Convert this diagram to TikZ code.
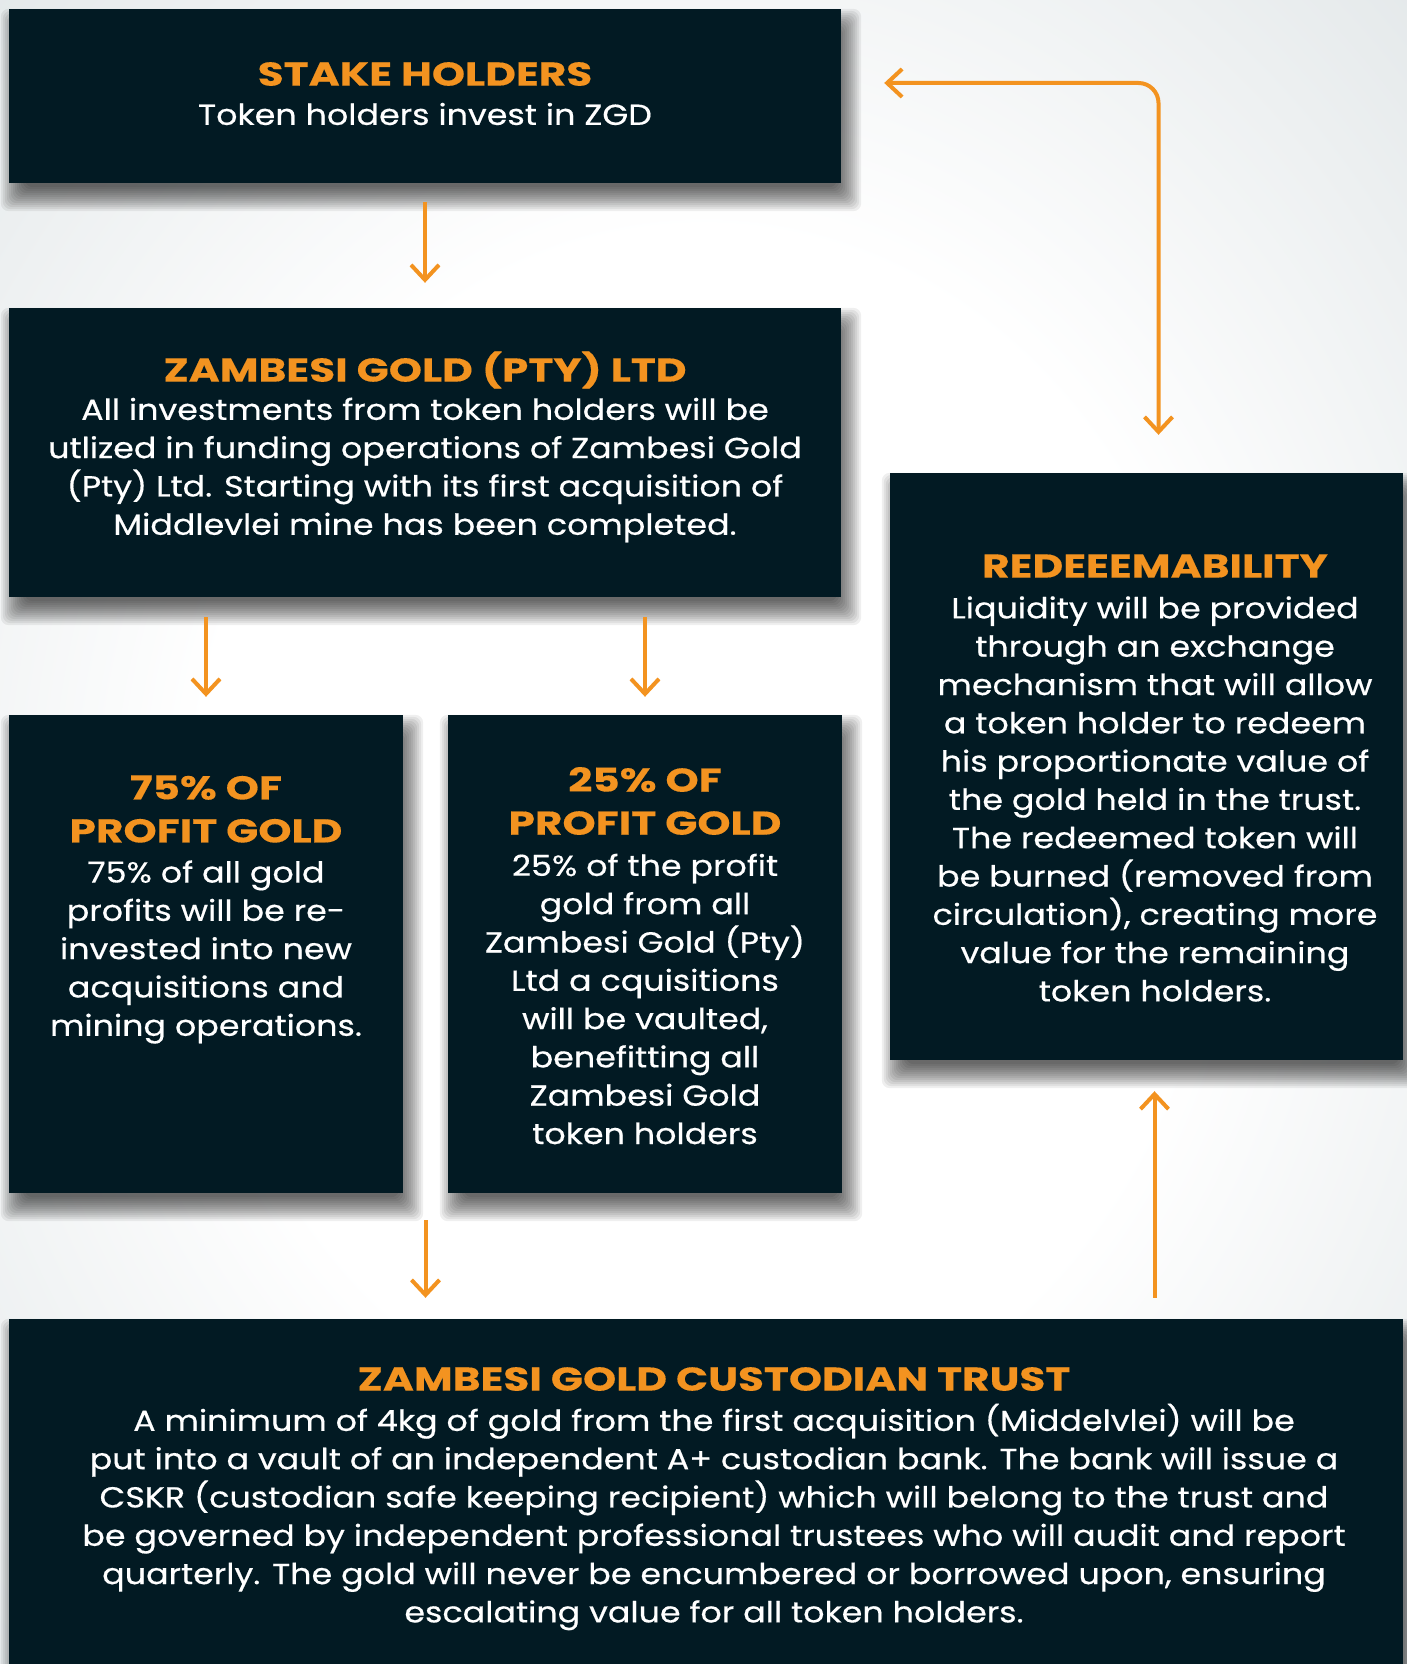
\documentclass[tikz,border=0pt]{standalone}
\usepackage{fontspec}
\setmainfont{Poppins}
\newfontfamily\headfont{Poppins}[FakeStretch=1.28, FakeBold=0.3]
\newfontfamily\bodyfont{Poppins}[FakeStretch=1.15, FakeBold=0.5]
\usetikzlibrary{arrows.meta,backgrounds,calc}
\definecolor{navy}{HTML}{021A23}
\definecolor{gold}{HTML}{F39320}
\definecolor{bggray}{HTML}{DBE1E3}
\pgfdeclareradialshading{bgshade}{\pgfpoint{0bp}{0bp}}{color(0bp)=(white); color(18bp)=(white); color(42bp)=(bggray); color(50bp)=(bggray)}
\tikzset{
  panel/.style={fill=navy, inner sep=0pt},
  head/.style={text=gold, align=center, inner sep=0pt, font=\headfont\bfseries\fontsize{33}{43}\selectfont},
  body/.style={text=white, align=center, inner sep=0pt, font=\bodyfont\fontsize{29}{38.3}\selectfont},
  flow/.style={draw=gold, line width=4pt, ->},
}
\begin{document}
\begin{tikzpicture}[x=1pt, y=-1pt, >={Straight Barb[length=15pt,width=28pt]}]
\useasboundingbox (0,0) rectangle (1407,1664);

% boxes
\node[panel, minimum width=832pt, minimum height=174pt] (stake) at (425,96) {};
\node[panel, minimum width=832pt, minimum height=289pt] (zgd) at (425,452.5) {};
\node[panel, minimum width=394pt, minimum height=478pt] (p75) at (206,954) {};
\node[panel, minimum width=394pt, minimum height=478pt] (p25) at (645,954) {};
\node[panel, minimum width=513pt, minimum height=587pt] (redeem) at (1146.5,766.5) {};
\node[panel, minimum width=1394pt, minimum height=361pt] (trust) at (706,1499.5) {};

% background and soft shadows
\begin{scope}[on background layer]
\shade[shading=bgshade] (0,0) rectangle (1407,1664);
\foreach \n in {stake,zgd,p75,p25,redeem,trust}
  \foreach \e in {-10,-8,...,14}
    \fill[black, opacity=0.062, rounded corners=8pt]
      ([shift={(6-\e,14-\e)}]\n.north west) rectangle ([shift={(6+\e,14+\e)}]\n.south east);
\end{scope}

% texts
\node[head] (stake-h) at (425,74) {STAKE HOLDERS};
\node[body] (stake-b) at (425,114) {Token holders invest in ZGD};

\node[head] (zgd-h) at (425,370) {ZAMBESI GOLD (PTY) LTD};
\node[body] (zgd-b) at (425,470) {All investments from token holders will be\\
  utlized in funding operations of Zambesi Gold\\
  (Pty) Ltd. Starting with its first acquisition of\\
  Middlevlei mine has been completed.};

\node[head] (p75-h) at (206,809) {75\% OF\\PROFIT GOLD};
\node[body] (p75-b) at (206,952) {75\% of all gold\\profits will be re-\\invested into new\\
  acquisitions and\\mining operations.};

\node[head] (p25-h) at (645,801) {25\% OF\\PROFIT GOLD};
\node[body] (p25-b) at (645,999) {25\% of the profit\\gold from all\\Zambesi Gold (Pty)\\
  Ltd a cquisitions\\will be vaulted,\\benefitting all\\Zambesi Gold\\token holders};

\node[head] (redeem-h) at (1155,566) {REDEEEMABILITY};
\node[body] (redeem-b) at (1155,799) {Liquidity will be provided\\through an exchange\\
  mechanism that will allow\\a token holder to redeem\\his proportionate value of\\
  the gold held in the trust.\\The redeemed token will\\be burned (removed from\\
  circulation), creating more\\value for the remaining\\token holders.};

\node[head] (trust-h) at (714,1379) {ZAMBESI GOLD CUSTODIAN TRUST};
\node[body] (trust-b) at (714,1517) {A minimum of 4kg of gold from the first acquisition (Middelvlei) will be\\
  put into a vault of an independent A+ custodian bank. The bank will issue a\\
  CSKR (custodian safe keeping recipient) which will belong to the trust and\\
  be governed by independent professional trustees who will audit and report\\
  quarterly. The gold will never be encumbered or borrowed upon, ensuring\\
  escalating value for all token holders.};

% arrows
\coordinate (gap) at ($(p75.south east)!0.5!(p25.south west)$);
\coordinate (rb) at ([xshift=8pt]redeem.south);
\draw[flow, shorten <=19pt, shorten >=25pt] (stake) -- (zgd);
\draw[flow, shorten <=20pt, shorten >=18pt] (zgd.south -| p75) -- (p75);
\draw[flow, shorten <=20pt, shorten >=18pt] (zgd.south -| p25) -- (p25);
\draw[flow, shorten <=27pt, shorten >=21pt] (gap) -- (gap |- trust.north);
\draw[flow, shorten <=21pt, shorten >=31pt] (trust.north -| rb) -- (rb);
\draw[flow, <->, rounded corners=20pt, shorten <=43pt, shorten >=38pt]
  ([yshift=13pt]stake.east) -| ([xshift=12pt]redeem.north);
\end{tikzpicture}
\end{document}
